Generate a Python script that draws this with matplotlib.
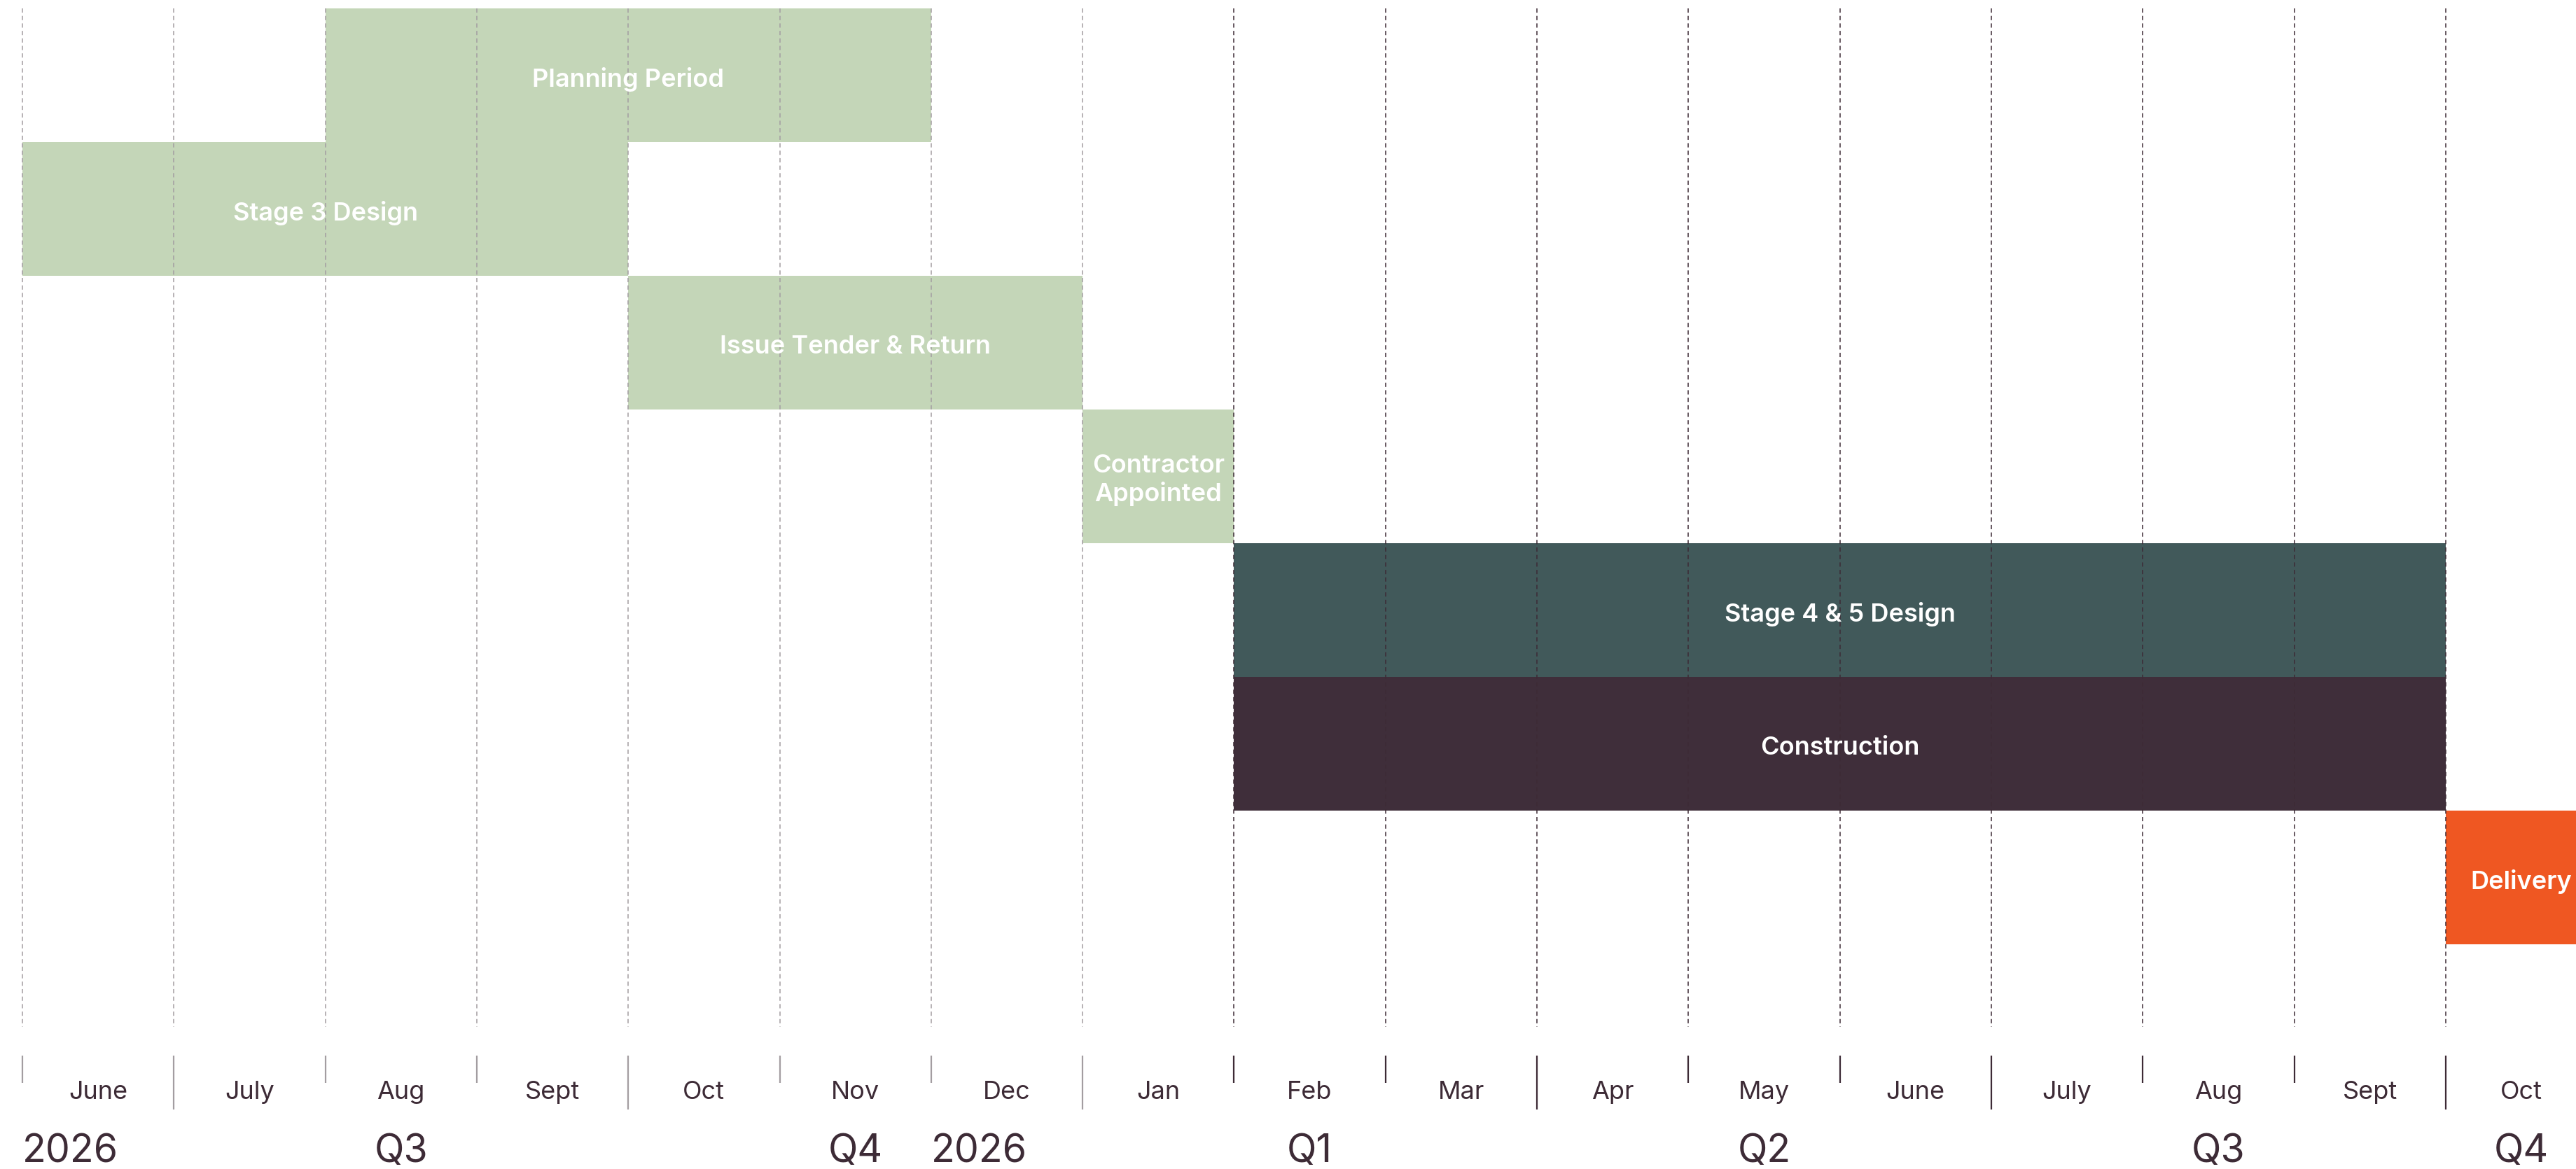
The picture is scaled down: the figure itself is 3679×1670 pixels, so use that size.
import matplotlib.pyplot as plt

# datos del cronograma
meses = ["June", "July", "Aug", "Sept", "Oct", "Nov", "Dec", "Jan",
         "Feb", "Mar", "Apr", "May", "June", "July", "Aug", "Sept", "Oct"]
tareas = ["Planning Period", "Stage 3 Design", "Issue Tender & Return",
          "Contractor\nAppointed", "Stage 4 & 5 Design", "Construction", "Delivery"]
inicio = [2, 0, 4, 7, 8, 8, 16]
fin = [6, 4, 7, 8, 16, 16, 17]
colores = ["#C4D6B8", "#C4D6B8", "#C4D6B8", "#C4D6B8", "#41595A", "#3F2E3A", "#EF5722"]

periodos = ["2026", "Q3", "Q4", "2026", "Q1", "Q2", "Q3", "Q4"]
periodosPos = [0, 2.5, 5.5, 6, 8.5, 11.5, 14.5, 16.5]
periodosAlign = ["left", "center", "center", "left", "center", "center", "center", "center"]
trimestres = [1, 4, 7, 10, 13, 16]

TEXTO = "#3D2B36"
GRIS = "#A39DA1"
OSCURO = "#3D2B36"

plt.rcParams['font.family'] = ['Inter', 'DejaVu Sans']

fig = plt.figure(figsize=(36.79, 16.70), dpi=100)
ax = fig.add_axes([0, 0, 1, 1])
# un mes = 216.3 px, una fila = 191 px
ax.set_xlim(-32 / 216.3, (3679 - 32) / 216.3)
ax.set_ylim((1670 - 12) / 191, -12 / 191)
ax.axis('off')

# barras
for i, (t, a, b, c) in enumerate(zip(tareas, inicio, fin, colores)):
    ax.barh(i, b - a, left=a, height=1, align='edge', color=c, zorder=1)
    ax.text((a + b) / 2, i + 0.53, t, color="white", fontsize=26, fontweight='semibold',
            ha='center', va='center', linespacing=1.2, zorder=3)

# lineas de grilla y marcas
for m in range(len(meses)):
    col = GRIS if m <= 7 else OSCURO
    ax.vlines(m, 0, 7.62, colors=col, linewidth=1.1, linestyles=(0, (4, 3)), zorder=2)
    largo = 8.236 if m in trimestres else 8.037
    ax.vlines(m, 7.832, largo, colors=col, linewidth=1.6, zorder=2)

# etiquetas de meses
for m, nombre in enumerate(meses):
    ax.text(m + 0.5, 8.105, nombre, color=TEXTO, fontsize=26, ha='center', va='center')

# años y trimestres
for nombre, pos, al in zip(periodos, periodosPos, periodosAlign):
    ax.text(pos, 8.55, nombre, color=TEXTO, fontsize=40, ha=al, va='center')

plt.savefig("out.png", dpi=100)
